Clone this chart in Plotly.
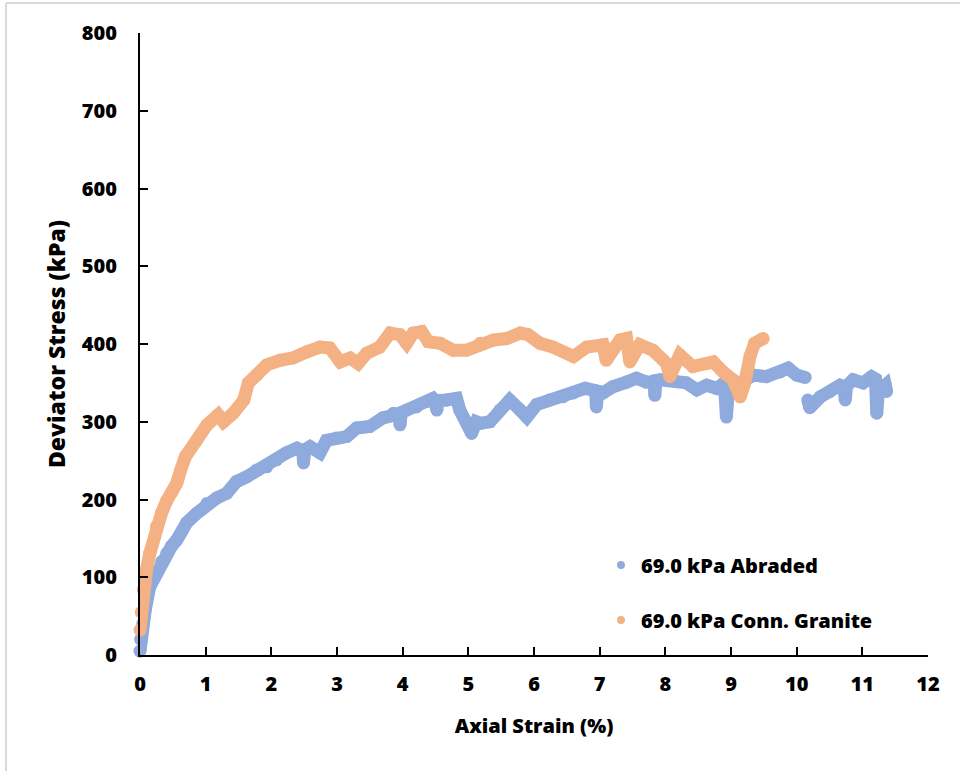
import plotly.graph_objects as go

# ---- data ----
abraded_strain = [0, 0.01, 0.04, 0.08, 0.15, 0.25, 0.33, 0.41, 0.48, 0.56, 0.63, 0.71, 0.86, 1.02, 1.17, 1.32, 1.47,
                  1.62, 1.78, 1.93, 2.08, 2.23, 2.39, 2.48, 2.49, 2.51, 2.59, 2.74, 2.84, 2.99, 3.15,
                  3.3, 3.5, 3.7, 3.86, 3.95, 3.96, 3.98, 4.06, 4.21, 4.37, 4.46, 4.51, 4.52, 4.54,
                  4.67, 4.82, 4.87, 4.97, 5.05, 5.12, 5.18, 5.33, 5.48, 5.63, 5.79, 5.89, 6.04, 6.24,
                  6.44, 6.6, 6.78, 6.94, 6.95, 6.97, 7.05, 7.2, 7.41, 7.56, 7.71, 7.83, 7.84, 7.86,
                  7.92, 8.12, 8.32, 8.48, 8.63, 8.78, 8.9, 8.93, 8.96, 9.14, 9.34, 9.54, 9.75, 9.87,
                  10.0, 10.13, None, 10.17, 10.2, 10.36, 10.51, 10.66, 10.72, 10.74, 10.76, 10.86,
                  11.01, 11.14, 11.2, 11.22, 11.25, 11.27, 11.35, 11.37]
abraded_stress = [5, 20, 40, 58, 88, 105, 120, 131, 140, 148, 158, 170, 182, 195, 202, 208, 223,
                  229, 238, 242, 251, 260, 266, 262, 247, 264, 268, 260, 276, 279, 281,
                  292, 294, 305, 311, 310, 296, 312, 315, 319, 326, 330, 325, 315, 327,
                  328, 330, 315, 300, 285, 300, 298, 300, 315, 328, 315, 306, 322, 328,
                  332, 337, 343, 340, 319, 338, 337, 345, 351, 356, 351, 352, 334, 353,
                  354, 354, 350, 341, 347, 343, 350, 306, 340, 350, 360, 358, 364, 369,
                  360, 357, None, 328, 318, 332, 339, 347, 345, 328, 346, 354,
                  350, 358, 355, 311, 345, 341, 347, 339]

granite_strain = [0, 0.02, 0.05, 0.1, 0.15, 0.25, 0.33, 0.41, 0.49, 0.56, 0.62, 0.69, 0.86, 1.02, 1.19, 1.27, 1.42,
                  1.58, 1.65, 1.78, 1.93, 2.13, 2.33, 2.54, 2.74, 2.89, 3.05, 3.2, 3.32, 3.45, 3.65,
                  3.81, 3.96, 4.06, 4.16, 4.29, 4.39, 4.57, 4.77, 4.97, 5.18, 5.38, 5.58, 5.79, 5.91,
                  6.09, 6.29, 6.6, 6.8, 7.05, 7.1, 7.2, 7.31, 7.41, 7.46, 7.61, 7.81, 8.02, 8.07,
                  8.22, 8.42, 8.63, 8.73, 8.88, 9.03, 9.14, 9.21, 9.29, 9.36, 9.49]
granite_stress = [32, 55, 84, 110, 131, 165, 183, 199, 210, 221, 238, 255, 276, 296, 309, 300, 311,
                  328, 350, 360, 373, 379, 382, 390, 396, 395, 377, 382, 375, 388, 396,
                  414, 412, 401, 414, 416, 403, 401, 392, 392, 401, 405, 407, 414, 412,
                  401, 396, 384, 396, 399, 379, 395, 405, 407, 377, 399, 392, 375, 358,
                  386, 371, 375, 377, 364, 354, 332, 350, 384, 401, 407]

series_names = ["69.0 kPa Abraded", "69.0 kPa Conn. Granite"]
series_colors = ["#8FAADC", "#F4B183"]

x_ticks = list(range(0, 13))
y_ticks = list(range(0, 801, 100))

FONT = "Open Sans"
W = 800

fig = go.Figure()

for xs, ys, color in [(abraded_strain, abraded_stress, series_colors[0]),
                      (granite_strain, granite_stress, series_colors[1])]:
    fig.add_trace(go.Scatter(
        x=xs, y=ys, mode="lines+markers",
        line=dict(color=color, width=13),
        marker=dict(color=color, size=13),
        cliponaxis=False, showlegend=False, hoverinfo="skip",
        connectgaps=False,
    ))

# legend-only entries
for name, color, lg in zip(series_names, series_colors, ["legend", "legend2"]):
    fig.add_trace(go.Scatter(
        x=[None], y=[None], mode="markers", name=name,
        marker=dict(color=color, size=8), legend=lg,
    ))

legend_common = dict(
    x=0.585, xanchor="left", yanchor="middle",
    bgcolor="rgba(0,0,0,0)",
    font=dict(family=FONT, size=20, color="#000000", weight=W),
)

fig.update_layout(
    width=960, height=771,
    margin=dict(l=140, r=32, t=33, b=116),
    paper_bgcolor="white", plot_bgcolor="white",
    legend=dict(y=(655 - 565) / 622, **legend_common),
    legend2=dict(y=(655 - 620) / 622, **legend_common),
    xaxis=dict(
        range=[0, 12], tickvals=x_ticks, ticktext=[str(t) for t in x_ticks],
        showgrid=False, zeroline=False,
        showline=True, linecolor="black", linewidth=2,
        ticks="inside", ticklen=8, tickwidth=2, tickcolor="black",
        ticklabelstandoff=10,
        tickfont=dict(family=FONT, size=20, color="black", weight=W),
        title=dict(text="Axial Strain (%)", standoff=23,
                   font=dict(family=FONT, size=20, color="black", weight=W)),
    ),
    yaxis=dict(
        range=[0, 800], tickvals=y_ticks, ticktext=[str(t) for t in y_ticks],
        showgrid=False, zeroline=False,
        showline=True, linecolor="black", linewidth=2,
        ticks="inside", ticklen=8, tickwidth=2, tickcolor="black",
        ticklabelstandoff=17,
        tickfont=dict(family=FONT, size=20, color="black", weight=W),
        title=dict(text="Deviator Stress (kPa)", standoff=10,
                   font=dict(family=FONT, size=23, color="black", weight=W)),
    ),
    shapes=[
        dict(type="line", xref="paper", yref="paper",
             x0=(6 - 140) / 788, x1=(6 - 140) / 788, y0=(655 - 3) / 622, y1=(655 - 771) / 622,
             line=dict(color="#D9D9D9", width=2)),
        dict(type="line", xref="paper", yref="paper",
             x0=(6 - 140) / 788, x1=(960 - 140) / 788, y0=(655 - 3) / 622, y1=(655 - 3) / 622,
             line=dict(color="#D9D9D9", width=2)),
    ],
)

fig.write_html("out.html")
